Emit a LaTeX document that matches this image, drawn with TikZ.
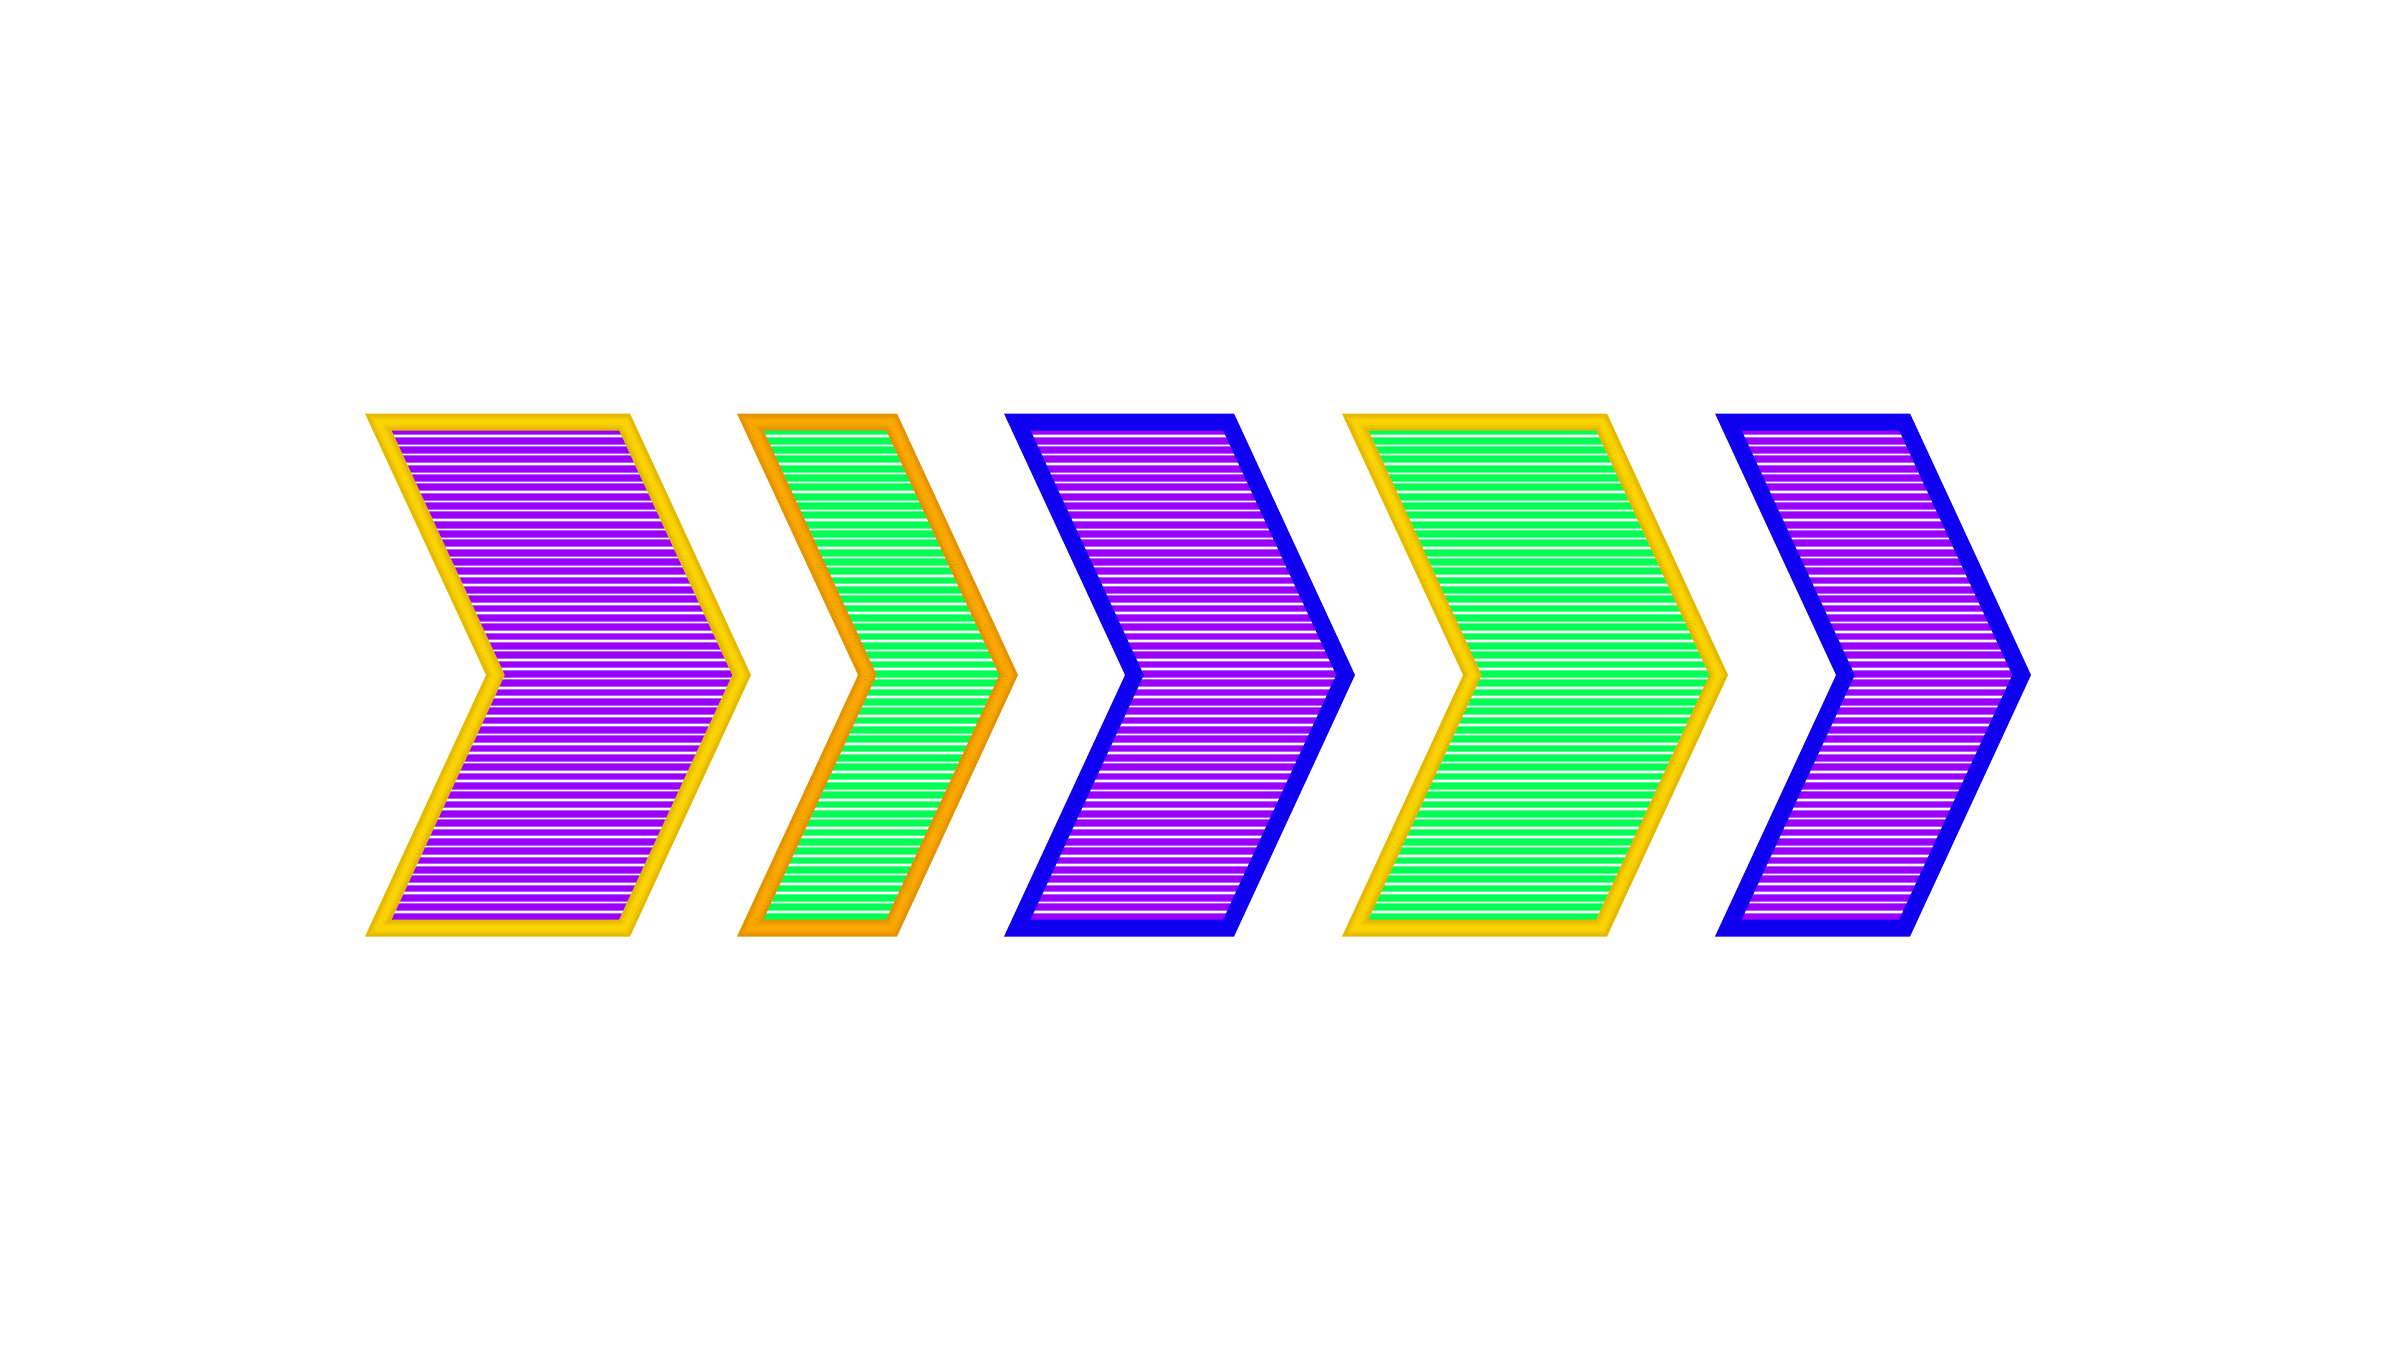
\documentclass[tikz,border=0pt]{standalone}
\definecolor{purp}{RGB}{153,0,255}
\definecolor{grn}{RGB}{0,255,85}
\definecolor{blu}{RGB}{16,0,240}
\definecolor{ylwD}{RGB}{228,186,0}
\definecolor{ylwM}{RGB}{240,198,0}
\definecolor{ylwL}{RGB}{250,210,0}
\definecolor{orgD}{RGB}{228,148,0}
\definecolor{orgM}{RGB}{240,158,0}
\definecolor{orgL}{RGB}{250,168,0}
\tikzset{
  stripe/.style={white, line width=1.6},
  stripehalo/.style={white, opacity=0.35, line width=3.6},
}
\begin{document}
\begin{tikzpicture}[x=1pt,y=-1pt,line join=miter]
\useasboundingbox (0,0) rectangle (2400,1350);
\fill[white] (0,0) rectangle (2400,1350);
\foreach \a/\b/\fc/\dc/\mc/\lc in {365/630/purp/ylwD/ylwM/ylwL, 737/897/grn/orgD/orgM/orgL, 1004/1234/purp/blu/blu/blu, 1342/1607/grn/ylwD/ylwM/ylwL, 1715/1910/purp/blu/blu/blu}{
  \def\chevpath{(\a+13.3,422) -- (\b-5.44,422) -- (\b+111.6,675) -- (\b-5.44,928) -- (\a+13.3,928) -- (\a+130.4,675) -- cycle}
  \fill[\fc] \chevpath;
  \begin{scope}
    \clip \chevpath;
    \foreach \i in {0,...,51}{
      \draw[stripehalo] (\a,436+9.33*\i) -- (\b+130,436+9.33*\i);
      \draw[stripe] (\a,436+9.33*\i) -- (\b+130,436+9.33*\i);
    }
  \end{scope}
  \draw[\dc, line width=17] \chevpath;
  \draw[\mc, line width=11] \chevpath;
  \draw[\lc, line width=6] \chevpath;
}
\end{tikzpicture}
\end{document}
